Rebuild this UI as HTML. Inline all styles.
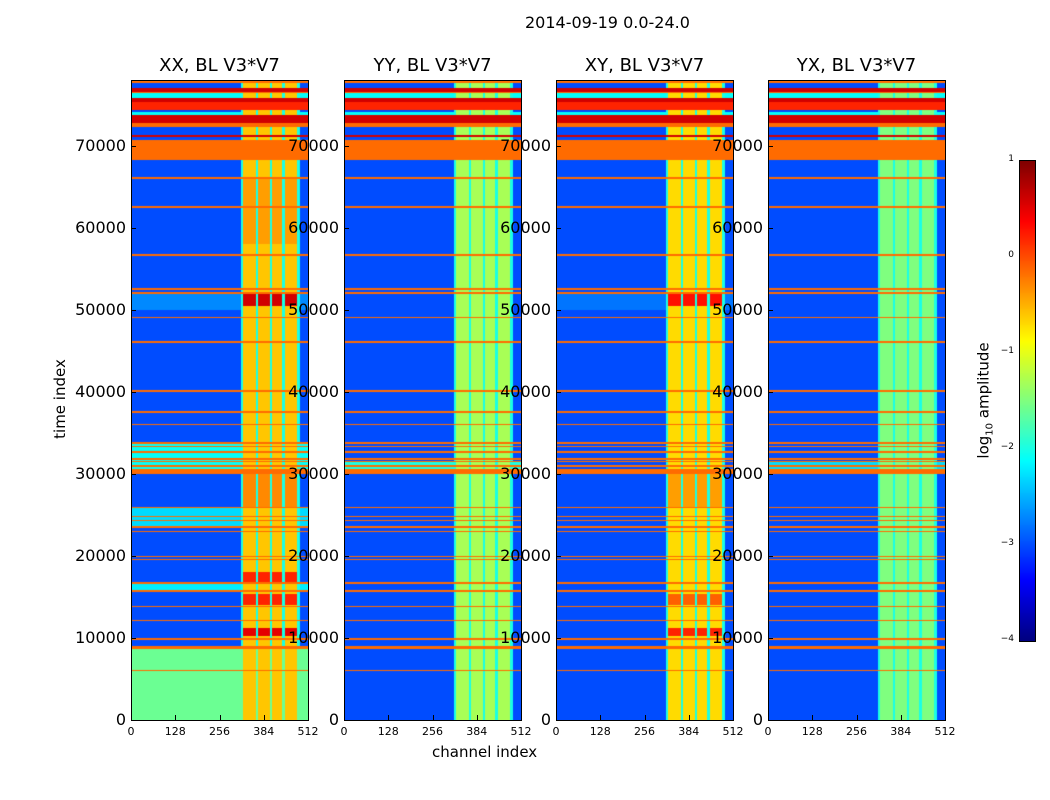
<!DOCTYPE html>
<html><head><meta charset="utf-8">
<style>
body{margin:0;background:#fff;width:1050px;height:800px;overflow:hidden;font-family:"DejaVu Sans","Liberation Sans",sans-serif;}
#root{position:relative;width:1050px;height:800px;}
.t{position:absolute;white-space:nowrap;color:#000;}
canvas{position:absolute;}
.frame{position:absolute;border:1px solid #000;box-sizing:border-box;}
</style></head>
<body>
<div id="root">
<div class="t" style="left:525px;top:13px;font-size:16px;">2014-09-19 0.0-24.0</div>
<div class="t" style="left:432px;top:743px;font-size:15px;">channel index</div>
<div class="t" style="left:10px;top:390px;font-size:15px;transform:rotate(-90deg);width:100px;text-align:center;">time index</div>
<div class="t" style="left:915px;top:390px;font-size:15px;transform:rotate(-90deg);width:140px;text-align:center;">log<sub style="font-size:10px">10</sub> amplitude</div>
</div>
<script>
// ---- data ----
const panelTitles = ["XX, BL V3*V7","YY, BL V3*V7","XY, BL V3*V7","YX, BL V3*V7"];
const panelLefts = [131,344,556,768];
const yTicks = [0,10000,20000,30000,40000,50000,60000,70000];
const xTicks = [0,128,256,384,512];
const cbTicks = [1,0,-1,-2,-3,-4];
const tMax = 78050, nChan = 512;
// shared orange/dark-red time bands [t0,t1,value]
const rowBands = [
 [77680,78050,-0.15],[76590,77070,0.6],[76460,76590,-0.15],[75850,76460,-2.1],[75370,75850,0.6],
 [74390,75370,0.2],[73780,74150,-2.1],[72800,73780,0.6],[72320,72800,-0.15],[71100,71400,0.6],
 [68290,70730,-0.15],[66000,66250,-0.15],[62500,62700,-0.15],[56600,56800,-0.15],[52500,52700,-0.15],
 [51950,52150,-0.15],[49000,49200,-0.15],[46000,46200,-0.15],[40000,40200,-0.15],[37500,37700,-0.15],
 [36000,36150,-0.15],[33700,33900,-0.15],[33300,33450,-0.15],[32600,32800,-0.15],[31700,31900,-0.15],
 [31500,31600,-0.15],[30900,31100,-0.15],[30000,30600,-0.15],[25800,26000,-0.15],[24750,24900,-0.15],
 [24300,24450,-0.15],[23400,23600,-0.15],[22900,23100,-0.15],[19900,20050,-0.15],[19500,19650,-0.15],
 [16550,16800,-0.15],[15650,15800,-0.15],[13750,13850,-0.15],[12050,12150,-0.15],[9800,9950,-0.15],
 [8700,9050,-0.15],[5950,6050,-0.15]
];
// channel bands [c0,c1] (values per panel)
const colBands = [[324,362],[367,402],[408,437],[445,480]];
const colValues = [-0.6,-1.3,-0.7,-1.5];
const baseValues = [-3.0,-3.0,-3.0,-3.0];
// panel-specific background segments [t0,t1,value]
const bgSegs = [
 [[0,8700,-1.6],[30000,33700,-2.1],[23500,26000,-2.3],[15800,16600,-2.2],[50000,52000,-2.7]],
 [[30600,31600,-2.0]],
 [[50000,52000,-2.8]],
 [[30600,31600,-2.3]]
];
// bright spots in channel bands (XX, XY) [t0,t1,value]
const spots = [
 [[10300,11200,0.5],[14000,15400,0.2],[16800,18000,0.2],[50500,52000,0.6],[26000,30000,-0.3],[58000,66000,-0.4]],
 [],
 [[10300,11200,0.2],[14000,15400,-0.1],[50500,52000,0.3],[26000,30000,-0.4]],
 []
];
// ---- render ----
function jet(v){ // v in [-4,1]
  let x=Math.max(0,Math.min(1,(v+4)/5));
  const f=(a)=>Math.max(0,Math.min(1,1.5-Math.abs(4*x-a)));
  return [f(3)*255|0,f(2)*255|0,f(1)*255|0];
}
const root=document.getElementById('root');
const top0=80,H=640,W=177;
function yOf(t){return top0+H-(t/tMax)*H;}
panelLefts.forEach((L,p)=>{
  const c=document.createElement('canvas');
  c.width=W;c.height=H;c.style.left=L+'px';c.style.top=top0+'px';
  
  
  root.appendChild(c);
  const ctx=c.getContext('2d');const img=ctx.createImageData(W,H);
  for(let y=0;y<H;y++){
    const t=(H-y-0.5)/H*tMax;
    let bg=baseValues[p];
    bgSegs[p].forEach(s=>{if(t>=s[0]&&t<s[1])bg=s[2];});
    let rb=-9;rowBands.forEach(r=>{if(t>=r[0]&&t<r[1])rb=Math.max(rb,r[2]);});
    let sp=-9;spots[p].forEach(s=>{if(t>=s[0]&&t<s[1])sp=Math.max(sp,s[2]);});
    for(let x=0;x<W;x++){
      const ch=(x+0.5)/W*nChan;
      let v=Math.max(bg,rb);
      let inCol=false;colBands.forEach(b=>{if(ch>=b[0]&&ch<b[1])inCol=true;});
      if(inCol){v=Math.max(v,colValues[p],sp);}
      else if(ch>=318&&ch<490){v=Math.max(v,-2.0);}
      const col=jet(v);const i=(y*W+x)*4;
      img.data[i]=col[0];img.data[i+1]=col[1];img.data[i+2]=col[2];img.data[i+3]=255;
    }
  }
  ctx.putImageData(img,0,0);
  const fr=document.createElement('div');fr.className='frame';
  fr.style.cssText=`left:${L}px;top:${top0}px;width:${W+1}px;height:${H+1}px;`;
  
  
  root.appendChild(fr);
  const tt=document.createElement('div');tt.className='t';
  tt.style.cssText=`left:${L-20}px;width:${W+40}px;text-align:center;top:55px;font-size:18px;`;
  tt.textContent=panelTitles[p];
  
  
  root.appendChild(tt);
  yTicks.forEach(v=>{
    const y=yOf(v);
    const lb=document.createElement('div');lb.className='t';
    lb.style.cssText=`left:${L-105}px;width:100px;text-align:right;top:${y-10}px;font-size:16px;`;
    lb.textContent=v;
    
    
    root.appendChild(lb);
    const tk=document.createElement('div');
    tk.style.cssText=`position:absolute;left:${L}px;top:${y}px;width:5px;height:1px;background:#000;`;
    
    
    root.appendChild(tk);
  });
  xTicks.forEach(v=>{
    const x=L+v/nChan*W;
    const lb=document.createElement('div');lb.className='t';
    lb.style.cssText=`left:${x-20}px;width:40px;text-align:center;top:725px;font-size:11px;`;
    lb.textContent=v;
    
    
    root.appendChild(lb);
    const tk=document.createElement('div');
    tk.style.cssText=`position:absolute;left:${x}px;top:${top0+H-5}px;width:1px;height:5px;background:#000;`;
    
    
    root.appendChild(tk);
  });
});
// colorbar
const cb=document.createElement('canvas');cb.width=15;cb.height=480;
cb.style.left='1019px';cb.style.top='160px';cb.style.border='1px solid #000';


root.appendChild(cb);
const cctx=cb.getContext('2d');
for(let y=0;y<480;y++){const c=jet(1-5*(y+0.5)/480);cctx.fillStyle=`rgb(${c[0]},${c[1]},${c[2]})`;cctx.fillRect(0,y,15,1);}
cbTicks.forEach(v=>{
  const y=160+(1-v)/5*480;
  const lb=document.createElement('div');lb.className='t';
  lb.style.cssText=`left:980px;width:34px;text-align:right;top:${y-6}px;font-size:9px;`;
  lb.textContent=v<0?'\u2212'+(-v):String(v);
  
  
  root.appendChild(lb);
});
</script>
</body></html>
